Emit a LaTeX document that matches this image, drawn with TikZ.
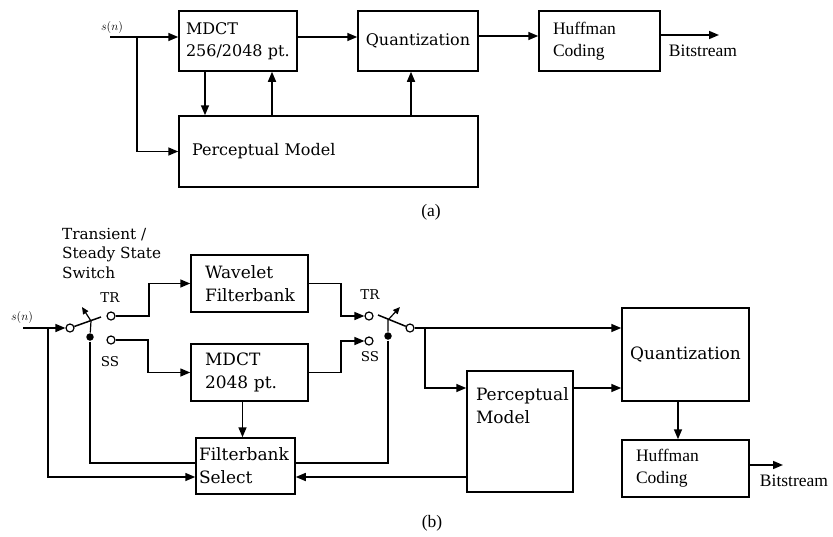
\documentclass[tikz,border=0pt]{standalone}
\usepackage{fontspec}
\setmainfont{DejaVu Serif}
\newfontfamily\tms{Liberation Serif}
\usetikzlibrary{arrows.meta}
\begin{document}
\begin{tikzpicture}[x=1pt, y=-1pt, line width=1.5pt, >={Triangle[length=10pt,width=8pt]},
  txa/.style={font=\fontsize{16}{22}\selectfont},
  txb/.style={font=\fontsize{17}{23}\selectfont},
  tmtx/.style={font=\tms\fontsize{17.5}{22}\selectfont},
  blok/.style={draw, inner sep=0pt, align=left},
  contact/.style={circle, draw, fill=white, inner sep=0pt, minimum size=8pt, line width=1.2pt},
  pivot/.style={circle, fill, inner sep=0pt, minimum size=7.5pt},
  lever/.style={line width=1.2pt, -{Triangle[length=7pt,width=6pt]}},
  tag/.style={font=\fontsize{13.5}{16}\selectfont},
  sig/.style={font=\fontsize{12}{14}\selectfont}]
  \useasboundingbox (0,0) rectangle (833,536);
  % (a)
  \node[blok, txa, minimum width=118pt, minimum height=60pt, text width=104pt] (mdct) at (238,41) {MDCT\\256/2048 pt.};
  \node[blok, txa, minimum width=120pt, minimum height=60pt, align=center] (quant) at (418,41) {Quantization};
  \node[blok, tmtx, minimum width=121pt, minimum height=60pt, text width=93pt] (huff) at (599.5,41) {Huffman\\Coding};
  \node[blok, txa, minimum width=299pt, minimum height=71pt, text width=273pt] (percep) at (328.5,151.5) {Perceptual Model};
  \node[sig] (sa) at (112,27) {$s(n)$}; \coordinate (ina) at (110,37); \coordinate (bra) at (137,37);
  \coordinate (outa) at (719,35); \node[tmtx] (bsa) at (703,51) {Bitstream};
  \draw[->] (ina) -- ([yshift=4pt]mdct.west); \draw[->] (bra) |- (percep.west);
  \draw[->] ([xshift=-33pt]mdct.south) -- ([xshift=-33pt]mdct.south |- percep.north);
  \draw[->] ([xshift=34pt]mdct.south |- percep.north) -- ([xshift=34pt]mdct.south);
  \draw[->] ([yshift=4pt]mdct.east) -- ([yshift=4pt]quant.west);
  \draw[->] ([xshift=-7pt]quant.south |- percep.north) -- ([xshift=-7pt]quant.south);
  \draw[->] ([yshift=5pt]quant.east) -- ([yshift=5pt]huff.west);
  \draw[->] ([yshift=6pt]huff.east) -- (outa);
  \node[tmtx] (capa) at (431,212) {(a)};
  % (b)
  \node[align=left, font=\fontsize{15.3}{19.5}\selectfont, anchor=west] (swlbl) at (58,253) {Transient /\\Steady State\\Switch};
  \node[blok, txb, minimum width=117pt, minimum height=57pt, text width=89pt] (wave) at (249.5,283.5) {Wavelet\\Filterbank};
  \node[blok, txb, minimum width=117pt, minimum height=57pt, text width=89pt] (mdctb) at (249.5,372.5) {MDCT\\2048 pt.};
  \node[blok, txb, minimum width=99pt, minimum height=56pt, text width=93pt] (fsel) at (245.5,466) {Filterbank\\Select};
  \node[blok, minimum width=106pt, minimum height=121pt] (pm) at (520,431.5) {};
  \node[txb, align=left, anchor=north west, inner sep=0pt] (pmtxt) at ([xshift=9pt,yshift=-17pt]pm.north west) {Perceptual\\Model};
  \node[blok, txb, minimum width=127pt, minimum height=93pt, align=center] (quantb) at (685.5,354.5) {Quantization};
  \node[blok, tmtx, minimum width=127pt, minimum height=57pt, text width=99pt] (huffb) at (685.5,468.5) {Huffman\\Coding};
  \node[sig] (sb) at (22,317) {$s(n)$}; \coordinate (inb) at (23,328); \coordinate (brb) at (48,328);
  \node[contact] (sw1in) at (70,328) {}; \node[contact] (sw1tr) at (111,316) {}; \node[contact] (sw1ss) at (111,340) {};
  \node[pivot] (sw1dot) at (90,337) {};
  \node[tag] (tr1) at (110,298) {TR}; \node[tag] (ss1) at (110,362) {SS};
  \node[contact] (sw2tr) at (369,316) {}; \node[contact] (sw2ss) at (369,341) {}; \node[contact] (sw2out) at (410,328) {};
  \node[pivot] (sw2dot) at (388,336) {};
  \node[tag] (tr2) at (370,295) {TR}; \node[tag] (ss2) at (370,357) {SS};
  \draw (sw1in) -- (101,317); \draw[lever] (sw1dot) -- (91,321) -- (82,307);
  \draw (sw2out) -- (378,315); \draw[lever] (sw2dot) -- (388,320) -- (400,307);
  \draw[->] (inb) -- (sw1in); \draw[->] (brb) |- ([yshift=-11pt]fsel.west);
  \draw[->] (sw1tr) -- (149,316) |- (wave); \draw[->] (sw1ss) -- (148,340) |- (mdctb);
  \draw[->] (wave.east) -| (341,316) -- (sw2tr); \draw[->] (mdctb.east) -| (341,341) -- (sw2ss);
  \draw[->] ([xshift=-7pt]mdctb.south) -- ([xshift=-7pt]mdctb.south |- fsel.north);
  \draw (sw1dot) |- ([yshift=3pt]fsel.west); \draw (sw2dot) |- ([yshift=3pt]fsel.east);
  \coordinate (brq) at (425,328);
  \draw[->] (sw2out) -- (quantb.west |- sw2out); \draw[->] (brq) |- ([yshift=43.5pt]pm.west);
  \draw[->] ([yshift=43.5pt]pm.east) -- ([yshift=43.5pt]pm.east -| quantb.west);
  \draw[->] ([yshift=-45.5pt]pm.west) -- ([yshift=-11pt]fsel.east);
  \draw[->] ([xshift=-7.5pt]quantb.south) -- ([xshift=-7.5pt]quantb.south |- huffb.north);
  \coordinate (outb) at (783,465); \node[tmtx] (bsb) at (794,481) {Bitstream};
  \draw[->] ([yshift=3.5pt]huffb.east) -- (outb);
  \node[tmtx] (capb) at (432,523) {(b)};
\end{tikzpicture}
\end{document}
